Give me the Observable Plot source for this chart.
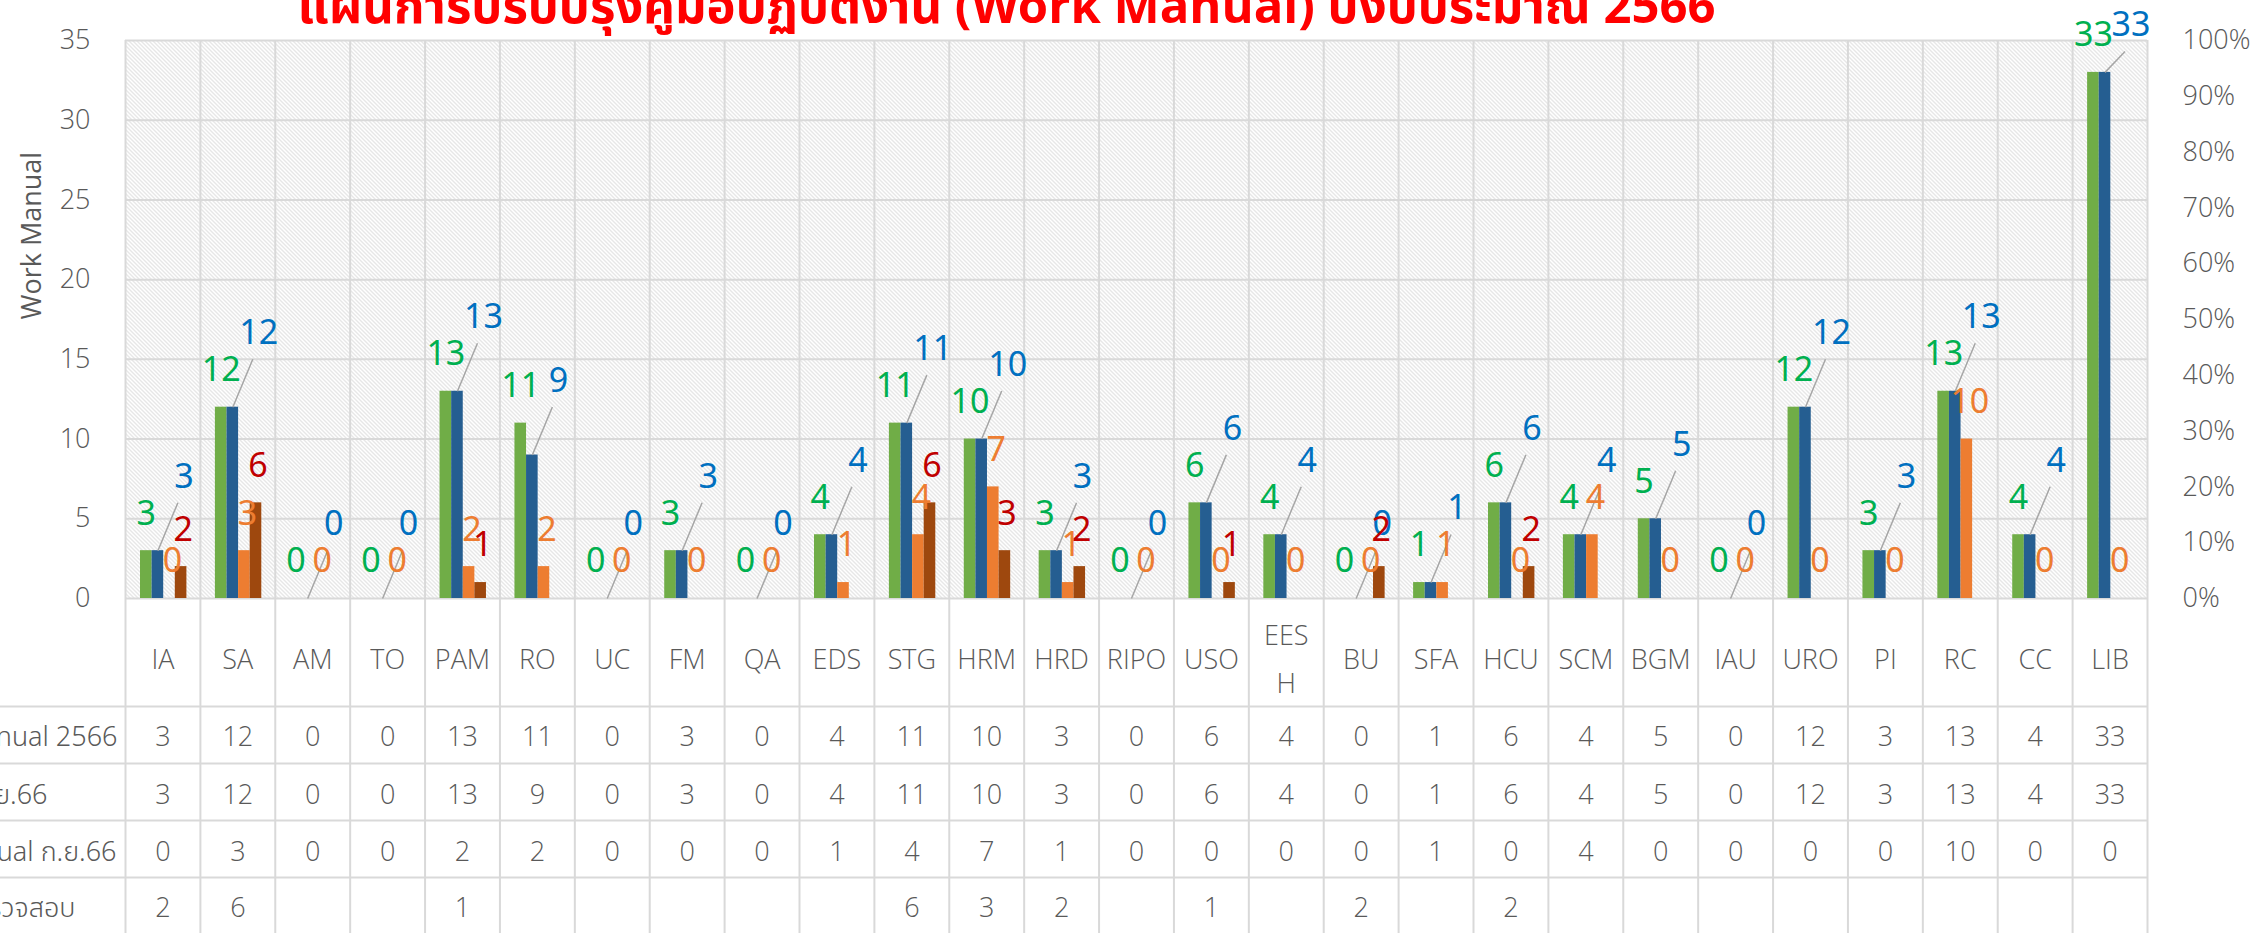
<!DOCTYPE html>
<html>
<head>
<meta charset="utf-8">
<script src="https://cdn.jsdelivr.net/npm/d3@7"></script>
<script src="https://cdn.jsdelivr.net/npm/@observablehq/plot@0.6"></script>
<style>
  html, body { margin: 0; padding: 0; background: #fff; overflow: hidden; }
</style>
</head>
<body>
<svg width="0" height="0" style="position:absolute">
  <defs>
    <pattern id="hatch" patternUnits="userSpaceOnUse" width="4" height="4">
      <rect width="4" height="4" fill="#ffffff"/>
      <path d="M-1,-1 L5,5 M3,-1 L5,1 M-1,3 L1,5" stroke="#cfcfcf" stroke-width="1"/>
    </pattern>
  </defs>
</svg>
<div id="chart"></div>
<script>
// ---------- data ----------
const title = "แผนการปรับปรุงคู่มือปฏิบัติงาน (Work Manual) ปีงบประมาณ 2566";
const yAxisTitle = "Work Manual";
const categories = ["IA","SA","AM","TO","PAM","RO","UC","FM","QA","EDS","STG","HRM","HRD","RIPO","USO","EESH","BU","SFA","HCU","SCM","BGM","IAU","URO","PI","RC","CC","LIB"];
const seriesNames = ["Work Manual 2566", "ดำเนินการแล้ว ก.ย.66", "ปรับปรุง Work Manual ก.ย.66", "อยู่ระหว่างตรวจสอบ"];
const manual2566 = [3,12,0,0,13,11,0,3,0,4,11,10,3,0,6,4,0,1,6,4,5,0,12,3,13,4,33];
const doneSep66  = [3,12,0,0,13,9,0,3,0,4,11,10,3,0,6,4,0,1,6,4,5,0,12,3,13,4,33];
const revisedSep66 = [0,3,0,0,2,2,0,0,0,1,4,7,1,0,0,0,0,1,0,4,0,0,0,0,10,0,0];
const underReview = [2,6,null,null,1,null,null,null,null,null,6,3,2,null,1,null,2,null,2,null,null,null,null,null,null,null,null];
const yTicks = [0,5,10,15,20,25,30,35];
const pctTicks = [0,10,20,30,40,50,60,70,80,90,100];

// ---------- layout & style ----------
const W = 2261, H = 933;
const mL = 125, mR = 114, mT = 40, mB = 335;
const colW = (W - mL - mR) / categories.length;
const unitY = (H - mT - mB) / 35;
const BAR0 = 15 / colW, BARW = 11.6 / colW;
const gridColor = "#d9d9d9";
const axisColor = "#595959";
const latin = "'Open Sans', 'Noto Sans', sans-serif";
const thai = "'Noto Sans Thai', 'Noto Sans Thai Looped', 'Sarabun', 'TH Sarabun New', 'Garuda', 'Loma', 'Noto Sans', sans-serif";
const labelFont = "'Noto Sans', 'DejaVu Sans', sans-serif";

const seriesValues = [manual2566, doneSep66, revisedSep66, underReview];
const barColors = ["#70ad47", "#255e91", "#ed7d31", "#9e480e"];
const labelColors = ["#00b050", "#0070c0", "#ed7d31", "#c00000"];
const labelDx = [0, 26, 3, 2];
const labelLift = [37, 74, 37, 37];   // px above the bar top
const labelCeiling = 15;              // px above the plot top at most

const rowCenters = [737, 795, 852, 908];
const rowLabelEnds = [117, 47, 116, 75];
const rowLines = [706, 763, 820, 877];

const long = seriesValues.map((vals, k) =>
  categories.map((c, i) => ({cat: c, i, k, value: vals[i]})).filter(d => d.value != null));

const barX = (d) => d.i + BAR0 + (d.k + 0.5) * BARW;
const labelY = (d) => Math.min(d.value + labelLift[d.k] / unitY, 35 + labelCeiling / unitY);

const marks = [];
// hatched plot area
marks.push(Plot.frame({fill: "url(#hatch)", stroke: null}));
// horizontal grid
marks.push(Plot.ruleY(yTicks, {stroke: gridColor, strokeWidth: 2}));
// vertical column lines extending through the data table
marks.push(Plot.ruleX(d3.range(categories.length + 1), {stroke: gridColor, strokeWidth: 2, insetBottom: -mB}));
// table horizontal lines
rowLines.forEach(y => marks.push(Plot.ruleY([0], {stroke: gridColor, strokeWidth: 2, dy: y - (H - mB), insetLeft: -mL})));

// bars
long.forEach((rows, k) => {
  marks.push(Plot.rectY(rows, {
    x1: d => d.i + BAR0 + k * BARW,
    x2: d => d.i + BAR0 + (k + 1) * BARW,
    y: "value",
    fill: barColors[k]
  }));
});

// leader lines for the blue labels
marks.push(Plot.link(long[1], {
  x1: barX, y1: "value",
  x2: d => barX(d) + 20 / colW, y2: d => labelY(d) - 26 / unitY,
  stroke: "#a6a6a6", strokeWidth: 1.5
}));

// data labels
long.forEach((rows, k) => {
  marks.push(Plot.text(rows, {
    x: barX, y: labelY, text: d => String(d.value),
    dx: labelDx[k],
    fill: labelColors[k], fontSize: 34, fontFamily: labelFont, lineAnchor: "middle"
  }));
});

// axes
marks.push(Plot.axisY(yTicks, {anchor: "left", tickSize: 0, tickPadding: 35, fontSize: 27, fontFamily: latin, fontWeight: 300, label: null}));
marks.push(Plot.axisY(pctTicks.map(p => p * 35 / 100), {anchor: "right", tickSize: 0, tickPadding: 35, fontSize: 27, fontFamily: latin, fontWeight: 300, label: null, textAnchor: "start",
  tickFormat: v => Math.round(v / 35 * 100) + "%"}));

// y-axis title
marks.push(Plot.text([yAxisTitle], {frameAnchor: "left", dx: 32 - mL, rotate: -90, fontSize: 27, fontFamily: latin, lineAnchor: "middle", fill: axisColor}));

// category labels
marks.push(Plot.text(categories, {
  x: (d, i) => i + 0.5, text: d => d === "EESH" ? "EES\nH" : d,
  frameAnchor: "bottom", dy: 55, lineAnchor: "middle", lineHeight: 1.78,
  fontSize: 27, fontFamily: latin, fontWeight: 300, fill: axisColor
}));

// data table rows
seriesValues.forEach((vals, r) => {
  const cells = categories.map((c, i) => ({i, v: vals[i]})).filter(d => d.v != null);
  marks.push(Plot.text(cells, {
    x: d => d.i + 0.5, text: d => String(d.v),
    frameAnchor: "bottom", dy: rowCenters[r] - (H - mB), lineAnchor: "middle",
    fontSize: 27, fontFamily: latin, fontWeight: 300, fill: axisColor
  }));
  marks.push(Plot.text([seriesNames[r]], {
    frameAnchor: "bottom-left", dx: rowLabelEnds[r] - mL, dy: rowCenters[r] - (H - mB),
    textAnchor: "end", lineAnchor: "middle",
    fontSize: 27, fontFamily: thai, fontWeight: 300, fill: axisColor
  }));
});

// title
marks.push(Plot.text([title], {
  frameAnchor: "top", dx: 1006 - (mL + (W - mL - mR) / 2), dy: 22 - mT,
  lineAnchor: "bottom", fontSize: 49, fontWeight: "bold", fontFamily: thai, fill: "#ff0000"
}));

const chart = Plot.plot({
  width: W, height: H,
  marginLeft: mL, marginRight: mR, marginTop: mT, marginBottom: mB,
  x: {type: "linear", domain: [0, categories.length], axis: null},
  y: {domain: [0, 35], axis: null},
  style: {background: "#fff", color: axisColor, overflow: "visible"},
  marks
});
document.getElementById("chart").appendChild(chart);
</script>
</body>
</html>
